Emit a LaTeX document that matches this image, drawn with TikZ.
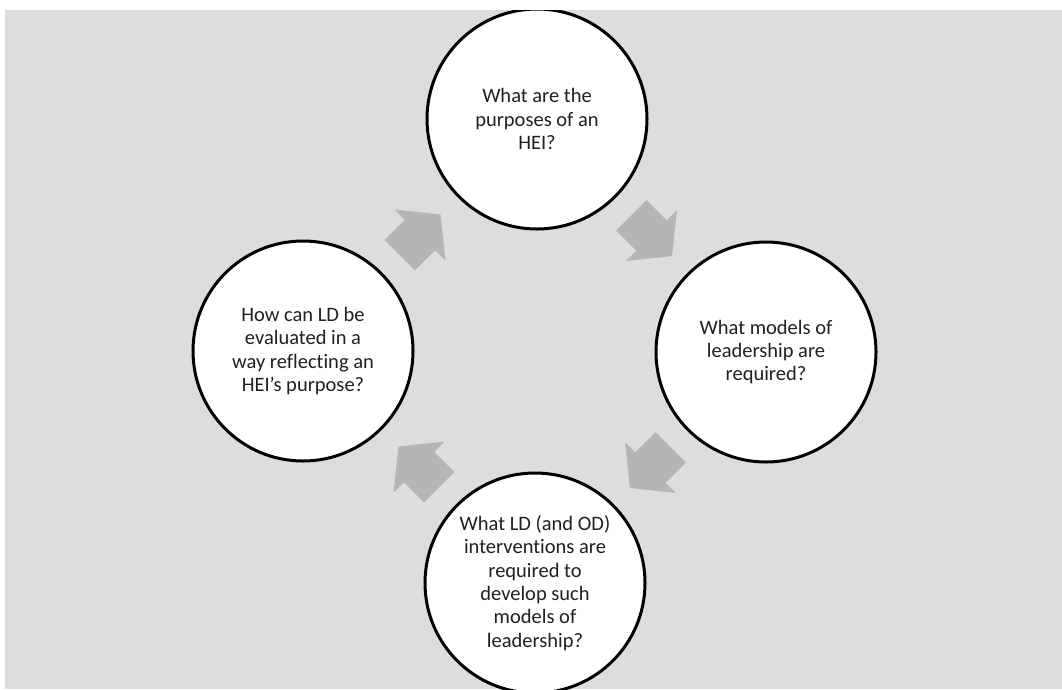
\documentclass[tikz,border=0pt]{standalone}
\usepackage{fontspec}
\setmainfont{Carlito}[Ligatures={NoCommon}]
\usetikzlibrary{calc}
\definecolor{bggray}{HTML}{DCDDDF}
\definecolor{arrowgray}{HTML}{B4B5B7}
\definecolor{txt}{HTML}{231F20}
\tikzset{
  question/.style={circle, draw=black, line width=3pt, fill=white, minimum size=220pt, inner sep=0pt,
    align=center, text=txt, font=\fontsize{20.5}{23.3}\selectfont},
  cyclearrow/.pic={
    \fill[arrowgray] (-28.5,-21.5) -- (0,-21.5) -- (0,-36) -- (29,0) -- (0,36) -- (0,21.5) -- (-28.5,21.5) -- cycle;
  }
}
\begin{document}
\begin{tikzpicture}[x=1pt,y=-1pt]
\useasboundingbox (0,0) rectangle (1062,689);
\fill[bggray] (5,10) rectangle (1062,689);
\begin{scope}
\clip (5,10) rectangle (1062,689);
\node[question] (top) at (537,119) {What are the\\purposes of an\\HEI?};
\node[question] (right) at (766,352) {What models of\\leadership are\\required?};
\node[question] (bottom) at (535,583) {What LD (and OD)\\interventions are\\required to\\develop such\\models of\\leadership?};
\node[question] (left) at (303,351) {How can LD be\\evaluated in a\\way reflecting an\\HEI{\char"0027}s purpose?};
\pic[rotate=45] at ($(left)!0.5!(top)$) {cyclearrow};
\pic[rotate=-45] at ($(top)!0.5!(right)$) {cyclearrow};
\pic[rotate=-135] at ($(right)!0.5!(bottom)$) {cyclearrow};
\pic[rotate=135] at ($(bottom)!0.5!(left)$) {cyclearrow};
\end{scope}
\end{tikzpicture}
\end{document}
